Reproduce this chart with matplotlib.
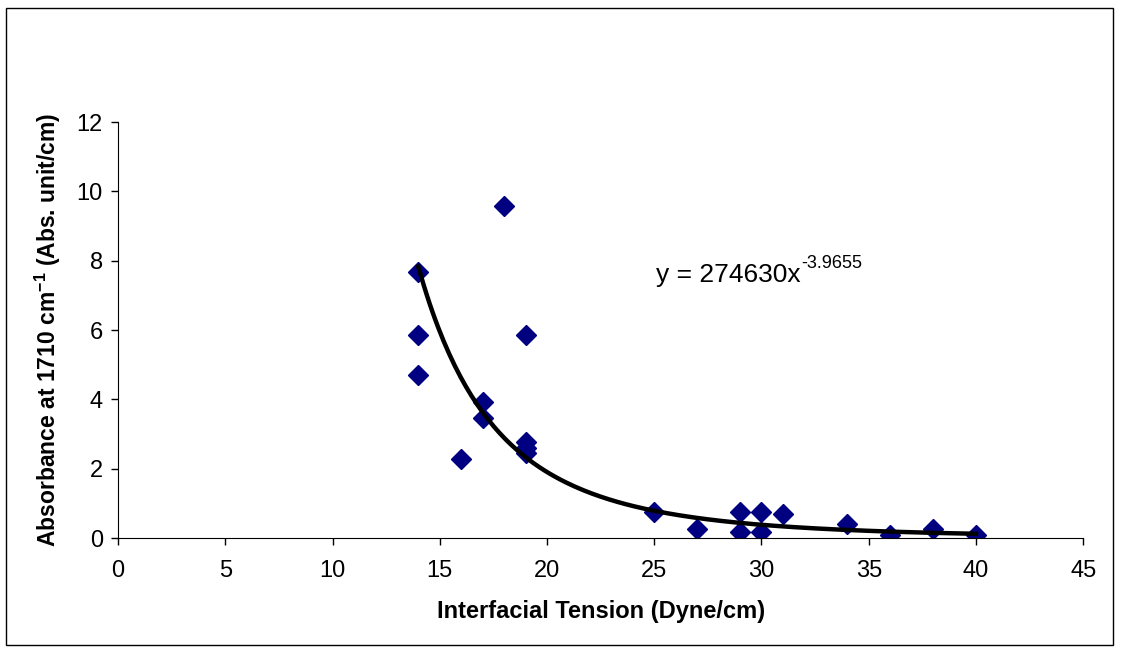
import numpy as np
import matplotlib
matplotlib.use("Agg")
import matplotlib.pyplot as plt
from matplotlib.patches import Rectangle

plt.rcParams["font.family"] = ["Liberation Sans", "DejaVu Sans"]
plt.rcParams["mathtext.fontset"] = "custom"
plt.rcParams["mathtext.rm"] = "Liberation Sans"
plt.rcParams["mathtext.bf"] = "Liberation Sans:bold"

# interfacial tension (Dyne/cm) and absorbance at 1710 cm-1
tension = [14, 14, 14, 16, 17, 17, 18, 19, 19, 19, 19,
           25, 27, 29, 29, 30, 30, 31, 34, 36, 38, 40]
absorbance = [7.67, 5.86, 4.70, 2.28, 3.92, 3.46, 9.58, 5.86, 2.77, 2.6, 2.45,
              0.75, 0.26, 0.75, 0.17, 0.75, 0.17, 0.69, 0.40, 0.09, 0.26, 0.09]

# power trend line y = a * x^b
coef_a = 274630
coef_b = -3.9655

fig = plt.figure(figsize=(11.21, 6.53), dpi=100)
ax = fig.add_axes([0.1053, 0.1761, 0.861, 0.637])

xfit = np.linspace(min(tension), max(tension), 200)
ax.plot(xfit, coef_a * xfit ** coef_b, color="black", lw=3.2, zorder=3)
ax.plot(tension, absorbance, linestyle="none", marker="D", markersize=10,
        color="#000080", zorder=2)

# equation label with a plain hyphen in the exponent
eq = ax.text(25.1, 7.38, "y = 274630x", fontsize=19, va="baseline")
ax.annotate("-3.9655", xy=(1, 0), xycoords=eq, xytext=(0, 14),
            textcoords="offset points", fontsize=13, va="baseline", ha="left")

ax.set_xlim(0, 45)
ax.set_ylim(0, 12)
ax.set_xticks(range(0, 46, 5))
ax.set_yticks(range(0, 13, 2))
ax.spines["top"].set_visible(False)
ax.spines["right"].set_visible(False)
ax.tick_params(labelsize=17, length=5, width=1)
ax.tick_params(axis="x", pad=11)
ax.tick_params(axis="y", pad=6)

ax.set_xlabel("Interfacial Tension (Dyne/cm)", fontsize=17, fontweight="bold", labelpad=13)
ax.set_ylabel(r"Absorbance at 1710 cm$^{\mathregular{-1}}$ (Abs. unit/cm)",
              fontsize=16.5, fontweight="bold", labelpad=10)

# chart border
fig.patches.append(Rectangle((6 / 1121, 8 / 653), 1107 / 1121, 637 / 653,
                             transform=fig.transFigure, fill=False,
                             edgecolor="black", lw=1))

fig.savefig("out.png", dpi=100)
